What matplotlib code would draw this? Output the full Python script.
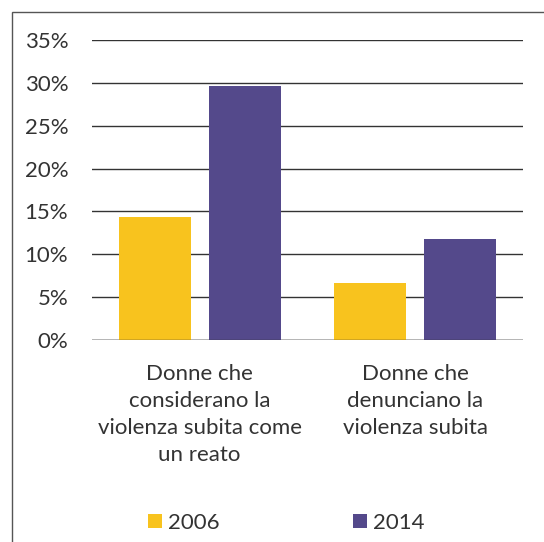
import matplotlib.pyplot as plt
import numpy as np
from matplotlib.patches import Rectangle
from matplotlib.ticker import PercentFormatter

plt.rcParams['font.family'] = ['Lato', 'DejaVu Sans']

categories = ['Donne che\nconsiderano la\nviolenza subita come\nun reato',
              'Donne che\ndenunciano la\nviolenza subita']
years = ['2006', '2014']
values_2006 = [0.144, 0.066]
values_2014 = [0.296, 0.118]
colors = ['#F8C31E', '#54498B']

fig = plt.figure(figsize=(5.44, 5.42), dpi=100)
ax = fig.add_axes([0.169, 0.3727, 0.792, 0.5535])

# outer frame (cut off at the right and bottom in the scan)
fig.patches.append(Rectangle((12 / 544, -0.1), 1.2, 1 - 12 / 542 + 0.1,
                             transform=fig.transFigure, fill=False,
                             edgecolor='#555555', linewidth=1.0))

x = np.arange(len(categories))
w = 0.334
off = w / 2 + 0.042
ax.bar(x - off, values_2006, w, color=colors[0], label=years[0], zorder=3)
ax.bar(x + off, values_2014, w, color=colors[1], label=years[1], zorder=3)

ax.set_xlim(-0.5, 1.5)
ax.set_ylim(0, 0.35)
ax.set_yticks(np.arange(0, 0.351, 0.05))
ax.yaxis.set_major_formatter(PercentFormatter(1.0, decimals=0))
ax.grid(axis='y', color='#333333', linewidth=1.0, zorder=0)
for s in ['top', 'right', 'left', 'bottom']:
    ax.spines[s].set_visible(False)
ax.axhline(0, color='#333333', linewidth=1.0, zorder=4)

fs = 16
ax.tick_params(axis='y', length=0, pad=17, labelsize=fs, labelcolor='#333333')
ax.tick_params(axis='x', length=0, pad=17, labelsize=fs, labelcolor='#333333')
ax.set_xticks(x)
ax.set_xticklabels(categories, linespacing=1.45)

fig.legend(loc='center', bbox_to_anchor=(0.527, 0.035), ncol=2, frameon=False,
           fontsize=fs, labelcolor='#333333', handlelength=0.6, handleheight=0.6,
           handletextpad=0.3, columnspacing=6.0)

fig.savefig('out.png', dpi=100)
